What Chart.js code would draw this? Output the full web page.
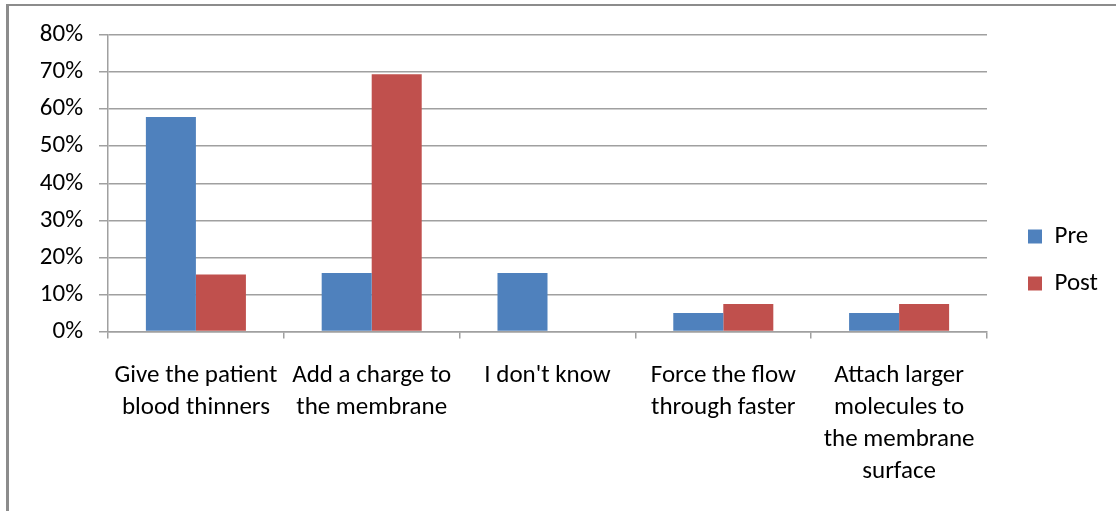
<!DOCTYPE html>
<html>
<head>
<meta charset="utf-8">
<script src="https://cdn.jsdelivr.net/npm/chart.js@4.4.1/dist/chart.umd.min.js"></script>
<style>
  html, body { margin: 0; padding: 0; background: #fff; }
  #wrap { position: relative; width: 1116px; height: 511px; overflow: hidden; }
  #frame { position: absolute; left: 6px; top: 4px; width: 1120px; height: 520px;
           border-top: 2px solid #8c8c8c; border-left: 3px solid #8c8c8c; box-sizing: border-box; }
  canvas { position: absolute; left: 0; top: 0; }
</style>
</head>
<body>
<div id="wrap">
  <div id="frame"></div>
  <canvas id="c" width="1116" height="511"></canvas>
</div>
<script>
const categories = [
  ['Give the patient', 'blood thinners'],
  ['Add a charge to', 'the membrane'],
  "I don't know",
  ['Force the flow', 'through faster'],
  ['Attach larger', 'molecules to', 'the membrane', 'surface']
];
const preValues = [57.9, 15.8, 15.8, 5.0, 5.0];
const postValues = [15.4, 69.4, 0, 7.4, 7.4];
const yTicks = [0, 10, 20, 30, 40, 50, 60, 70, 80];

const FONT = 'Carlito, Lato, sans-serif';
const FS = 25;
const LEG_PAD = 22;
const BOX = 14;
const TARGET_RIGHT = 987;

const chart = new Chart(document.getElementById('c'), {
  type: 'bar',
  data: {
    labels: categories,
    datasets: [
      { label: 'Pre', data: preValues, backgroundColor: '#4F81BD', borderWidth: 0 },
      { label: 'Post', data: postValues, backgroundColor: '#C0504D', borderWidth: 0 }
    ]
  },
  options: {
    responsive: false,
    animation: false,
    devicePixelRatio: 1,
    layout: { padding: { top: 35, left: 0, right: 10, bottom: 26 } },
    datasets: { bar: { categoryPercentage: 0.569, barPercentage: 1.0 } },
    scales: {
      x: {
        grid: { display: true, drawOnChartArea: false, drawTicks: true, tickLength: 7, color: '#a0a0a0', lineWidth: 1.5 },
        border: { display: true, color: '#a0a0a0', width: 1.5 },
        ticks: { font: { family: FONT, size: FS, lineHeight: 1.28 }, color: '#000', padding: 21, maxRotation: 0, autoSkip: false },
        afterFit: s => { s.height = 511 - 26 - 331.5; }
      },
      y: {
        min: 0, max: 80,
        afterBuildTicks: s => { s.ticks = yTicks.map(v => ({ value: v })); },
        grid: { color: '#a0a0a0', lineWidth: 1.5, tickLength: 9, drawTicks: true },
        border: { display: true, color: '#a0a0a0', width: 1.5 },
        ticks: { font: { family: FONT, size: FS }, color: '#000', padding: 16, callback: v => v + '%' },
        afterFit: s => { s.width = 108; }
      },
      y2: {
        type: 'linear', position: 'right', display: true,
        grid: { display: false }, border: { display: false },
        ticks: { display: false },
        afterFit: s => { s.width = 19; }
      }
    },
    plugins: {
      legend: {
        position: 'right',
        align: 'center',
        labels: { boxWidth: BOX, boxHeight: BOX, padding: LEG_PAD, color: '#000', font: { family: FONT, size: FS } }
      },
      tooltip: { enabled: false }
    }
  }
});
// adjust right padding so the plot area ends where the reference's does
const diff = chart.chartArea.right - TARGET_RIGHT;
if (Math.abs(diff) > 0.5) {
  chart.options.layout.padding.right = Math.max(0, 10 + diff);
  chart.update();
}
</script>
</body>
</html>
